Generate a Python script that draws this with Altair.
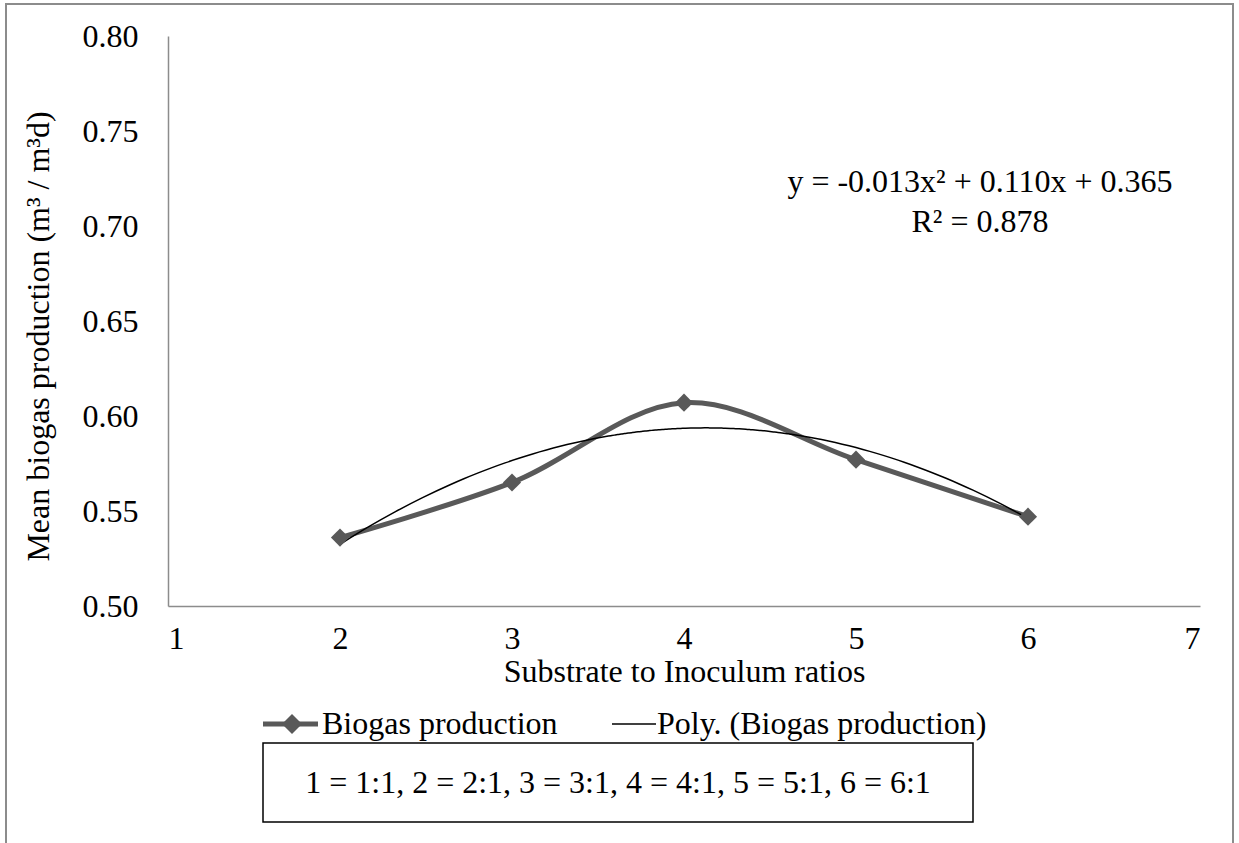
import altair as alt
import pandas as pd

ratios = [2, 3, 4, 5, 6]
biogas = [0.536, 0.565, 0.607, 0.577, 0.547]
x_ticks = [1, 2, 3, 4, 5, 6, 7]
y_ticks = [0.50, 0.55, 0.60, 0.65, 0.70, 0.75, 0.80]

FONT = "Liberation Serif, Times New Roman, Tinos, DejaVu Serif, serif"
GRAY = "#595959"
FS = 32

df = pd.DataFrame({"ratio": ratios, "biogas": biogas})
one = pd.DataFrame({"k": [0]})

x_enc = alt.X("ratio:Q", scale=alt.Scale(domain=[1, 7], nice=False, zero=False),
              axis=alt.Axis(values=x_ticks, format="d", title="Substrate to Inoculum ratios",
                            grid=False, ticks=False, domainColor="#8c8c8c", domainWidth=1.5,
                            labelFont=FONT, labelFontSize=FS, labelColor="black", labelPadding=17,
                            titleFont=FONT, titleFontSize=FS, titleFontWeight="normal", titleColor="black",
                            titleY=75, titleBaseline="alphabetic"))
y_enc = alt.Y("biogas:Q", scale=alt.Scale(domain=[0.5, 0.8], nice=False, zero=False),
              axis=alt.Axis(values=y_ticks, format=".2f", title="Mean biogas production (m³ / m³d)",
                            grid=False, ticks=False, domainColor="#8c8c8c", domainWidth=1.5,
                            labelFont=FONT, labelFontSize=FS, labelColor="black", labelPadding=30,
                            titleFont=FONT, titleFontSize=FS, titleFontWeight="normal", titleColor="black",
                            titleX=-130, titleY=300, titleBaseline="middle", titleAlign="center"))

base = alt.Chart(df)

line = base.mark_line(color=GRAY, strokeWidth=5, interpolate="catmull-rom").encode(x=x_enc, y=y_enc)
pts = base.mark_point(shape="diamond", filled=True, color=GRAY, size=330, opacity=1).encode(x="ratio:Q", y="biogas:Q")
trend = base.transform_regression("ratio", "biogas", method="poly", order=2, extent=[2, 6]).mark_line(
    color="black", strokeWidth=1.5, interpolate="monotone").encode(x="ratio:Q", y="biogas:Q")

ann = alt.Chart(one)
eq1 = ann.mark_text(text="y = -0.013x² + 0.110x + 0.365", font=FONT, fontSize=FS, color="black",
                    align="center", baseline="middle").encode(x=alt.value(812), y=alt.value(146))
eq2 = ann.mark_text(text="R² = 0.878", font=FONT, fontSize=FS, color="black",
                    align="center", baseline="middle").encode(x=alt.value(812), y=alt.value(186))

# legend
leg_line = ann.mark_rule(color=GRAY, strokeWidth=5).encode(x=alt.value(95), x2=alt.value(150), y=alt.value(688))
leg_pt = ann.mark_point(shape="diamond", filled=True, color=GRAY, size=400, opacity=1).encode(
    x=alt.value(124), y=alt.value(688))
leg_t1 = ann.mark_text(text="Biogas production", font=FONT, fontSize=FS, color="black",
                       align="left", baseline="middle").encode(x=alt.value(154), y=alt.value(688))
leg_line2 = ann.mark_rule(color="black", strokeWidth=1.5).encode(x=alt.value(444), x2=alt.value(488), y=alt.value(688))
leg_t2 = ann.mark_text(text="Poly. (Biogas production)", font=FONT, fontSize=FS, color="black",
                       align="left", baseline="middle").encode(x=alt.value(489), y=alt.value(688))

box = ann.mark_rect(fill="white", stroke="black", strokeWidth=1.5).encode(
    x=alt.value(95), x2=alt.value(805), y=alt.value(707), y2=alt.value(786))
box_t = ann.mark_text(text="1 = 1:1, 2 = 2:1, 3 = 3:1, 4 = 4:1, 5 = 5:1, 6 = 6:1", font=FONT, fontSize=FS,
                      color="black", align="center", baseline="middle").encode(x=alt.value(450), y=alt.value(747))

frame = ann.mark_rect(fill="transparent", stroke="#8c8c8c", strokeWidth=2).encode(
    x=alt.value(-162), x2=alt.value(1065), y=alt.value(-32), y2=alt.value(830))

chart = alt.layer(frame, line, trend, pts, eq1, eq2, leg_line, leg_pt, leg_t1, leg_line2, leg_t2, box, box_t).properties(
    width=1032, height=570,
    autosize=alt.AutoSizeParams(type="none"),
    padding={"left": 168, "top": 36, "right": 39, "bottom": 237},
    background="white",
).configure_view(strokeWidth=0)

chart.save("out.html", embed_options={"renderer": "svg", "actions": False})
